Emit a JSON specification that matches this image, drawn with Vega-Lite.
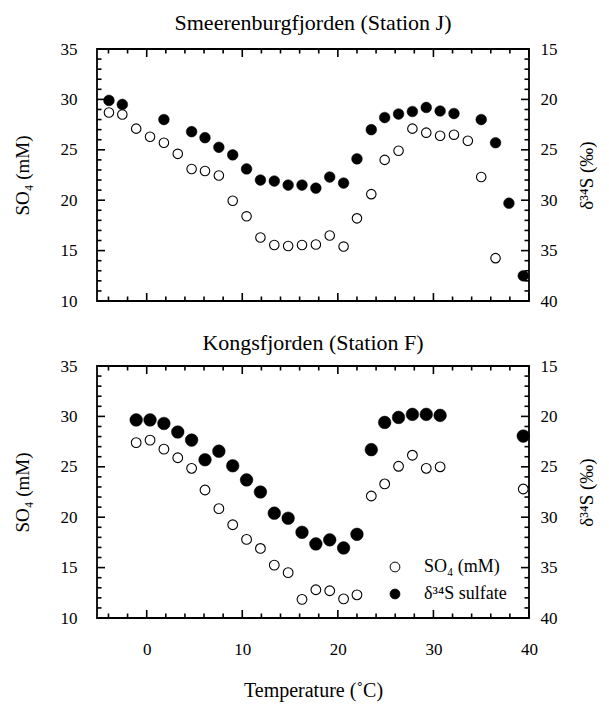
{
  "$schema": "https://vega.github.io/schema/vega-lite/v6.json",
  "padding": {"left": 12, "top": 11, "right": 5, "bottom": 5},
  "datasets": {
    "ticksX": [
      {"v": 0, "kind": "major"}, {"v": 10, "kind": "major"}, {"v": 20, "kind": "major"}, {"v": 30, "kind": "major"}, {"v": 40, "kind": "major"},
      {"v": -4, "kind": "minor"}, {"v": -2, "kind": "minor"}, {"v": 2, "kind": "minor"}, {"v": 4, "kind": "minor"}, {"v": 6, "kind": "minor"},
      {"v": 8, "kind": "minor"}, {"v": 12, "kind": "minor"}, {"v": 14, "kind": "minor"}, {"v": 16, "kind": "minor"}, {"v": 18, "kind": "minor"},
      {"v": 22, "kind": "minor"}, {"v": 24, "kind": "minor"}, {"v": 26, "kind": "minor"}, {"v": 28, "kind": "minor"}, {"v": 32, "kind": "minor"},
      {"v": 34, "kind": "minor"}, {"v": 36, "kind": "minor"}, {"v": 38, "kind": "minor"}
    ],
    "ticksY": [
      {"v": 10, "kind": "major"}, {"v": 15, "kind": "major"}, {"v": 20, "kind": "major"}, {"v": 25, "kind": "major"}, {"v": 30, "kind": "major"}, {"v": 35, "kind": "major"},
      {"v": 11, "kind": "minor"}, {"v": 12, "kind": "minor"}, {"v": 13, "kind": "minor"}, {"v": 14, "kind": "minor"},
      {"v": 16, "kind": "minor"}, {"v": 17, "kind": "minor"}, {"v": 18, "kind": "minor"}, {"v": 19, "kind": "minor"},
      {"v": 21, "kind": "minor"}, {"v": 22, "kind": "minor"}, {"v": 23, "kind": "minor"}, {"v": 24, "kind": "minor"},
      {"v": 26, "kind": "minor"}, {"v": 27, "kind": "minor"}, {"v": 28, "kind": "minor"}, {"v": 29, "kind": "minor"},
      {"v": 31, "kind": "minor"}, {"v": 32, "kind": "minor"}, {"v": 33, "kind": "minor"}, {"v": 34, "kind": "minor"}
    ],
    "A_so4": [
      {"T": -3.95, "v": 28.7}, {"T": -2.55, "v": 28.5}, {"T": -1.1, "v": 27.1}, {"T": 0.35, "v": 26.3},
      {"T": 1.8, "v": 25.7}, {"T": 3.25, "v": 24.6}, {"T": 4.7, "v": 23.1}, {"T": 6.1, "v": 22.9},
      {"T": 7.55, "v": 22.45}, {"T": 9.0, "v": 19.95}, {"T": 10.45, "v": 18.4}, {"T": 11.9, "v": 16.3},
      {"T": 13.35, "v": 15.55}, {"T": 14.8, "v": 15.45}, {"T": 16.25, "v": 15.55}, {"T": 17.7, "v": 15.6},
      {"T": 19.15, "v": 16.5}, {"T": 20.6, "v": 15.4}, {"T": 22.0, "v": 18.2}, {"T": 23.5, "v": 20.6},
      {"T": 24.9, "v": 24.0}, {"T": 26.35, "v": 24.9}, {"T": 27.8, "v": 27.1}, {"T": 29.25, "v": 26.7},
      {"T": 30.7, "v": 26.4}, {"T": 32.15, "v": 26.5}, {"T": 33.6, "v": 25.9}, {"T": 35.0, "v": 22.3},
      {"T": 36.5, "v": 14.25}
    ],
    "A_d34s": [
      {"T": -3.95, "v": 20.1}, {"T": -2.55, "v": 20.5}, {"T": 1.8, "v": 22.0}, {"T": 4.7, "v": 23.2},
      {"T": 6.1, "v": 23.8}, {"T": 7.55, "v": 24.75}, {"T": 9.0, "v": 25.5}, {"T": 10.45, "v": 26.9},
      {"T": 11.9, "v": 28.0}, {"T": 13.35, "v": 28.1}, {"T": 14.8, "v": 28.5}, {"T": 16.25, "v": 28.5},
      {"T": 17.7, "v": 28.8}, {"T": 19.15, "v": 27.7}, {"T": 20.6, "v": 28.3}, {"T": 22.0, "v": 25.9},
      {"T": 23.5, "v": 23.0}, {"T": 24.9, "v": 21.8}, {"T": 26.35, "v": 21.45}, {"T": 27.8, "v": 21.2},
      {"T": 29.25, "v": 20.8}, {"T": 30.7, "v": 21.15}, {"T": 32.15, "v": 21.4}, {"T": 35.0, "v": 22.0},
      {"T": 36.5, "v": 24.3}, {"T": 37.9, "v": 30.3}, {"T": 39.4, "v": 37.5}
    ],
    "B_so4": [
      {"T": -1.1, "v": 27.4}, {"T": 0.35, "v": 27.65}, {"T": 1.8, "v": 26.75}, {"T": 3.25, "v": 25.9},
      {"T": 4.7, "v": 24.85}, {"T": 6.1, "v": 22.7}, {"T": 7.55, "v": 20.85}, {"T": 9.0, "v": 19.25},
      {"T": 10.45, "v": 17.8}, {"T": 11.9, "v": 16.9}, {"T": 13.35, "v": 15.25}, {"T": 14.8, "v": 14.5},
      {"T": 16.25, "v": 11.85}, {"T": 17.7, "v": 12.8}, {"T": 19.15, "v": 12.7}, {"T": 20.6, "v": 11.9},
      {"T": 22.0, "v": 12.3}, {"T": 23.5, "v": 22.1}, {"T": 24.9, "v": 23.3}, {"T": 26.35, "v": 25.05},
      {"T": 27.8, "v": 26.15}, {"T": 29.25, "v": 24.85}, {"T": 30.7, "v": 25.0}, {"T": 39.4, "v": 22.8}
    ],
    "B_d34s": [
      {"T": -1.1, "v": 20.35}, {"T": 0.35, "v": 20.35}, {"T": 1.8, "v": 20.7}, {"T": 3.25, "v": 21.55},
      {"T": 4.7, "v": 22.35}, {"T": 6.1, "v": 24.3}, {"T": 7.55, "v": 23.45}, {"T": 9.0, "v": 24.9},
      {"T": 10.45, "v": 26.3}, {"T": 11.9, "v": 27.5}, {"T": 13.35, "v": 29.6}, {"T": 14.8, "v": 30.1},
      {"T": 16.25, "v": 31.5}, {"T": 17.7, "v": 32.65}, {"T": 19.15, "v": 32.25}, {"T": 20.6, "v": 33.05},
      {"T": 22.0, "v": 31.7}, {"T": 23.5, "v": 23.3}, {"T": 24.9, "v": 20.6}, {"T": 26.35, "v": 20.1},
      {"T": 27.8, "v": 19.8}, {"T": 29.25, "v": 19.8}, {"T": 30.7, "v": 19.9}, {"T": 39.4, "v": 21.95}
    ]
  },
  "spacing": 21,
  "resolve": {"scale": {"fill": "independent"}, "legend": {"fill": "independent"}},
  "vconcat": [
    {
      "title": {"text": "Smeerenburgfjorden (Station J)", "offset": 5},
      "width": 432,
      "height": 252,
      "resolve": {"scale": {"x": "independent", "y": "independent"}, "axis": {"x": "independent", "y": "independent"}},
      "layer": [
        {
          "data": {"name": "ticksX"}, "transform": [{"filter": "datum.kind === 'major'"}],
          "mark": {"type": "rule", "color": "black", "strokeWidth": 1.6, "y2Offset": -8},
          "encoding": {
            "x": {"field": "v", "type": "quantitative", "scale": {"domain": [-5.2, 40], "nice": false, "zero": false}, "axis": null},
            "y": {"datum": 10, "type": "quantitative", "scale": {"domain": [10, 35], "nice": false, "zero": false}, "axis": null},
            "y2": {"datum": 10}
          }
        },
        {
          "data": {"name": "ticksX"}, "transform": [{"filter": "datum.kind === 'minor'"}],
          "mark": {"type": "rule", "color": "black", "strokeWidth": 1.6, "y2Offset": -4.5},
          "encoding": {
            "x": {"field": "v", "type": "quantitative", "scale": {"domain": [-5.2, 40], "nice": false, "zero": false}, "axis": null},
            "y": {"datum": 10, "type": "quantitative", "scale": {"domain": [10, 35], "nice": false, "zero": false}, "axis": null},
            "y2": {"datum": 10}
          }
        },
        {
          "data": {"name": "ticksX"}, "transform": [{"filter": "datum.kind === 'major'"}],
          "mark": {"type": "rule", "color": "black", "strokeWidth": 1.6, "y2Offset": 8},
          "encoding": {
            "x": {"field": "v", "type": "quantitative", "scale": {"domain": [-5.2, 40], "nice": false, "zero": false}, "axis": null},
            "y": {"datum": 35, "type": "quantitative", "scale": {"domain": [10, 35], "nice": false, "zero": false}, "axis": null},
            "y2": {"datum": 35}
          }
        },
        {
          "data": {"name": "ticksX"}, "transform": [{"filter": "datum.kind === 'minor'"}],
          "mark": {"type": "rule", "color": "black", "strokeWidth": 1.6, "y2Offset": 4.5},
          "encoding": {
            "x": {"field": "v", "type": "quantitative", "scale": {"domain": [-5.2, 40], "nice": false, "zero": false}, "axis": null},
            "y": {"datum": 35, "type": "quantitative", "scale": {"domain": [10, 35], "nice": false, "zero": false}, "axis": null},
            "y2": {"datum": 35}
          }
        },
        {
          "data": {"name": "ticksY"}, "transform": [{"filter": "datum.kind === 'major'"}],
          "mark": {"type": "rule", "color": "black", "strokeWidth": 1.6, "x2Offset": 8},
          "encoding": {
            "x": {"datum": -5.2, "type": "quantitative", "scale": {"domain": [-5.2, 40], "nice": false, "zero": false}, "axis": null},
            "x2": {"datum": -5.2},
            "y": {"field": "v", "type": "quantitative", "scale": {"domain": [10, 35], "nice": false, "zero": false}, "axis": null}
          }
        },
        {
          "data": {"name": "ticksY"}, "transform": [{"filter": "datum.kind === 'minor'"}],
          "mark": {"type": "rule", "color": "black", "strokeWidth": 1.6, "x2Offset": 4.5},
          "encoding": {
            "x": {"datum": -5.2, "type": "quantitative", "scale": {"domain": [-5.2, 40], "nice": false, "zero": false}, "axis": null},
            "x2": {"datum": -5.2},
            "y": {"field": "v", "type": "quantitative", "scale": {"domain": [10, 35], "nice": false, "zero": false}, "axis": null}
          }
        },
        {
          "data": {"name": "ticksY"}, "transform": [{"filter": "datum.kind === 'major'"}],
          "mark": {"type": "rule", "color": "black", "strokeWidth": 1.6, "x2Offset": -8},
          "encoding": {
            "x": {"datum": 40, "type": "quantitative", "scale": {"domain": [-5.2, 40], "nice": false, "zero": false}, "axis": null},
            "x2": {"datum": 40},
            "y": {"field": "v", "type": "quantitative", "scale": {"domain": [10, 35], "nice": false, "zero": false}, "axis": null}
          }
        },
        {
          "data": {"name": "ticksY"}, "transform": [{"filter": "datum.kind === 'minor'"}],
          "mark": {"type": "rule", "color": "black", "strokeWidth": 1.6, "x2Offset": -4.5},
          "encoding": {
            "x": {"datum": 40, "type": "quantitative", "scale": {"domain": [-5.2, 40], "nice": false, "zero": false}, "axis": null},
            "x2": {"datum": 40},
            "y": {"field": "v", "type": "quantitative", "scale": {"domain": [10, 35], "nice": false, "zero": false}, "axis": null}
          }
        },
        {
          "data": {"name": "A_so4"},
          "mark": {"type": "circle", "fill": "white", "stroke": "black", "strokeWidth": 1.1, "size": 90, "opacity": 1},
          "encoding": {
            "x": {"field": "T", "type": "quantitative", "scale": {"domain": [-5.2, 40], "nice": false, "zero": false}, "axis": null},
            "y": {"field": "v", "type": "quantitative", "scale": {"domain": [10, 35], "nice": false, "zero": false},
              "axis": {"orient": "left", "values": [10, 15, 20, 25, 30, 35], "ticks": false, "labelPadding": 20, "title": "SO₄ (mM)", "titlePadding": 28}}
          }
        },
        {
          "data": {"name": "A_d34s"},
          "mark": {"type": "circle", "fill": "black", "stroke": "black", "strokeWidth": 0.5, "size": 115, "opacity": 1},
          "encoding": {
            "x": {"field": "T", "type": "quantitative", "scale": {"domain": [-5.2, 40], "nice": false, "zero": false}, "axis": null},
            "y": {"field": "v", "type": "quantitative", "scale": {"domain": [15, 40], "reverse": true, "nice": false, "zero": false},
              "axis": {"orient": "right", "values": [15, 20, 25, 30, 35, 40], "ticks": false, "labelPadding": 11, "title": "δ³⁴S  (‰)",
                "titleAngle": 270, "titleBaseline": "top", "titlePadding": 20}}
          }
        },
        {
          "mark": {"type": "text", "text": "A", "font": "Liberation Serif", "fontSize": 23, "align": "center", "baseline": "middle", "color": "black"},
          "encoding": {
            "x": {"datum": -2.8, "type": "quantitative", "scale": {"domain": [-5.2, 40], "nice": false, "zero": false}, "axis": null},
            "y": {"datum": 12.3, "type": "quantitative", "scale": {"domain": [10, 35], "nice": false, "zero": false}, "axis": null}
          }
        }
      ]
    },
    {
      "title": {"text": "Kongsfjorden (Station F)", "offset": 2},
      "width": 432,
      "height": 252,
      "resolve": {"scale": {"x": "independent", "y": "independent"}, "axis": {"x": "independent", "y": "independent"}},
      "layer": [
        {
          "data": {"name": "ticksX"}, "transform": [{"filter": "datum.kind === 'major'"}],
          "mark": {"type": "rule", "color": "black", "strokeWidth": 1.6, "y2Offset": -8},
          "encoding": {
            "x": {"field": "v", "type": "quantitative", "scale": {"domain": [-5.2, 40], "nice": false, "zero": false}, "axis": null},
            "y": {"datum": 10, "type": "quantitative", "scale": {"domain": [10, 35], "nice": false, "zero": false}, "axis": null},
            "y2": {"datum": 10}
          }
        },
        {
          "data": {"name": "ticksX"}, "transform": [{"filter": "datum.kind === 'minor'"}],
          "mark": {"type": "rule", "color": "black", "strokeWidth": 1.6, "y2Offset": -4.5},
          "encoding": {
            "x": {"field": "v", "type": "quantitative", "scale": {"domain": [-5.2, 40], "nice": false, "zero": false}, "axis": null},
            "y": {"datum": 10, "type": "quantitative", "scale": {"domain": [10, 35], "nice": false, "zero": false}, "axis": null},
            "y2": {"datum": 10}
          }
        },
        {
          "data": {"name": "ticksX"}, "transform": [{"filter": "datum.kind === 'major'"}],
          "mark": {"type": "rule", "color": "black", "strokeWidth": 1.6, "y2Offset": 8},
          "encoding": {
            "x": {"field": "v", "type": "quantitative", "scale": {"domain": [-5.2, 40], "nice": false, "zero": false}, "axis": null},
            "y": {"datum": 35, "type": "quantitative", "scale": {"domain": [10, 35], "nice": false, "zero": false}, "axis": null},
            "y2": {"datum": 35}
          }
        },
        {
          "data": {"name": "ticksX"}, "transform": [{"filter": "datum.kind === 'minor'"}],
          "mark": {"type": "rule", "color": "black", "strokeWidth": 1.6, "y2Offset": 4.5},
          "encoding": {
            "x": {"field": "v", "type": "quantitative", "scale": {"domain": [-5.2, 40], "nice": false, "zero": false}, "axis": null},
            "y": {"datum": 35, "type": "quantitative", "scale": {"domain": [10, 35], "nice": false, "zero": false}, "axis": null},
            "y2": {"datum": 35}
          }
        },
        {
          "data": {"name": "ticksY"}, "transform": [{"filter": "datum.kind === 'major'"}],
          "mark": {"type": "rule", "color": "black", "strokeWidth": 1.6, "x2Offset": 8},
          "encoding": {
            "x": {"datum": -5.2, "type": "quantitative", "scale": {"domain": [-5.2, 40], "nice": false, "zero": false}, "axis": null},
            "x2": {"datum": -5.2},
            "y": {"field": "v", "type": "quantitative", "scale": {"domain": [10, 35], "nice": false, "zero": false}, "axis": null}
          }
        },
        {
          "data": {"name": "ticksY"}, "transform": [{"filter": "datum.kind === 'minor'"}],
          "mark": {"type": "rule", "color": "black", "strokeWidth": 1.6, "x2Offset": 4.5},
          "encoding": {
            "x": {"datum": -5.2, "type": "quantitative", "scale": {"domain": [-5.2, 40], "nice": false, "zero": false}, "axis": null},
            "x2": {"datum": -5.2},
            "y": {"field": "v", "type": "quantitative", "scale": {"domain": [10, 35], "nice": false, "zero": false}, "axis": null}
          }
        },
        {
          "data": {"name": "ticksY"}, "transform": [{"filter": "datum.kind === 'major'"}],
          "mark": {"type": "rule", "color": "black", "strokeWidth": 1.6, "x2Offset": -8},
          "encoding": {
            "x": {"datum": 40, "type": "quantitative", "scale": {"domain": [-5.2, 40], "nice": false, "zero": false}, "axis": null},
            "x2": {"datum": 40},
            "y": {"field": "v", "type": "quantitative", "scale": {"domain": [10, 35], "nice": false, "zero": false}, "axis": null}
          }
        },
        {
          "data": {"name": "ticksY"}, "transform": [{"filter": "datum.kind === 'minor'"}],
          "mark": {"type": "rule", "color": "black", "strokeWidth": 1.6, "x2Offset": -4.5},
          "encoding": {
            "x": {"datum": 40, "type": "quantitative", "scale": {"domain": [-5.2, 40], "nice": false, "zero": false}, "axis": null},
            "x2": {"datum": 40},
            "y": {"field": "v", "type": "quantitative", "scale": {"domain": [10, 35], "nice": false, "zero": false}, "axis": null}
          }
        },
        {
          "data": {"name": "B_so4"},
          "mark": {"type": "circle", "stroke": "black", "strokeWidth": 1.1, "size": 95, "opacity": 1},
          "encoding": {
            "x": {"field": "T", "type": "quantitative", "scale": {"domain": [-5.2, 40], "nice": false, "zero": false},
              "axis": {"orient": "bottom", "values": [0, 10, 20, 30, 40], "ticks": false, "labelPadding": 23, "labelOverlap": false, "labelFlush": false,
                "title": "Temperature (˚C)", "titleFontSize": 20, "titlePadding": 23}},
            "y": {"field": "v", "type": "quantitative", "scale": {"domain": [10, 35], "nice": false, "zero": false},
              "axis": {"orient": "left", "values": [10, 15, 20, 25, 30, 35], "ticks": false, "labelPadding": 20, "title": "SO₄ (mM)", "titlePadding": 28}},
            "fill": {"datum": "SO₄ (mM)", "scale": {"domain": ["SO₄ (mM)", "δ³⁴S sulfate"], "range": ["white", "black"]},
              "legend": {"orient": "none", "legendX": 289, "legendY": 192, "title": null, "symbolType": "circle", "symbolSize": 95,
                "symbolStrokeColor": "black", "symbolStrokeWidth": 1, "symbolOpacity": 1, "labelFont": "Liberation Serif",
                "labelFontSize": 18, "labelColor": "black", "labelOffset": 20, "rowPadding": 9}}
          }
        },
        {
          "data": {"name": "B_d34s"},
          "mark": {"type": "circle", "stroke": "black", "strokeWidth": 0.5, "size": 160, "opacity": 1},
          "encoding": {
            "x": {"field": "T", "type": "quantitative", "scale": {"domain": [-5.2, 40], "nice": false, "zero": false}, "axis": null},
            "y": {"field": "v", "type": "quantitative", "scale": {"domain": [15, 40], "reverse": true, "nice": false, "zero": false},
              "axis": {"orient": "right", "values": [15, 20, 25, 30, 35, 40], "ticks": false, "labelPadding": 11, "title": "δ³⁴S  (‰)",
                "titleAngle": 270, "titleBaseline": "top", "titlePadding": 20}},
            "fill": {"datum": "δ³⁴S sulfate"}
          }
        },
        {
          "mark": {"type": "text", "text": "B", "font": "Liberation Sans", "fontSize": 23, "align": "center", "baseline": "middle", "color": "black"},
          "encoding": {
            "x": {"datum": -2.5, "type": "quantitative", "scale": {"domain": [-5.2, 40], "nice": false, "zero": false}, "axis": null},
            "y": {"datum": 12.4, "type": "quantitative", "scale": {"domain": [10, 35], "nice": false, "zero": false}, "axis": null}
          }
        }
      ]
    }
  ],
  "config": {
    "view": {"stroke": "black", "strokeWidth": 1.8},
    "axis": {"domain": false, "grid": false,
      "labelFont": "Liberation Serif", "labelFontSize": 17, "labelColor": "black",
      "titleFont": "Liberation Serif", "titleFontSize": 19, "titleFontWeight": "normal", "titleColor": "black"},
    "title": {"font": "Liberation Serif", "fontSize": 22, "fontWeight": "normal", "color": "black", "anchor": "middle"}
  }
}
